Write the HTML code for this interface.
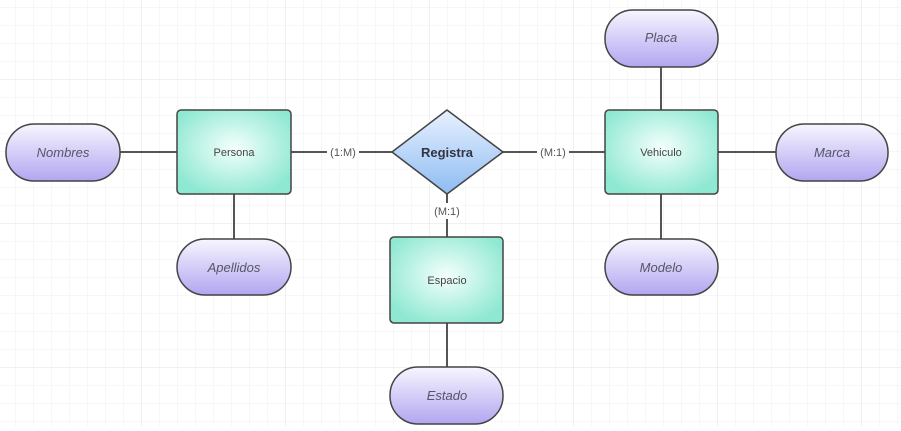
<!DOCTYPE html>
<html><head><meta charset="utf-8"><style>
body{margin:0;width:901px;height:426px;overflow:hidden;background:#fff;font-family:"Liberation Sans",sans-serif}
</style></head><body>
<svg width="901" height="426" xmlns="http://www.w3.org/2000/svg">
<defs>
<pattern id="g" x="16" y="8" width="18" height="18" patternUnits="userSpaceOnUse"><path d="M18 0V18M0 18H18" stroke="#efefef" stroke-width="1" fill="none"/></pattern>
<pattern id="G" x="142" y="80" width="144" height="144" patternUnits="userSpaceOnUse"><path d="M144 0V144M0 144H144" stroke="#e0e0e0" stroke-width="1" fill="none"/></pattern>
<radialGradient id="ent" cx="50%" cy="45%" r="60%"><stop offset="0" stop-color="#f4fffc"/><stop offset="1" stop-color="#8ee8d2"/></radialGradient>
<linearGradient id="att" x1="0" y1="0" x2="0" y2="1"><stop offset="0" stop-color="#f7f6ff"/><stop offset="1" stop-color="#b1a6f0"/></linearGradient>
<linearGradient id="rel" x1="0" y1="0" x2="0" y2="1"><stop offset="0" stop-color="#e8f1ff"/><stop offset="1" stop-color="#8ebcf2"/></linearGradient>
</defs>
<rect width="901" height="426" fill="url(#g)"/>
<rect width="901" height="426" fill="url(#G)"/>
<g stroke="#555" stroke-width="2" fill="none">
<path d="M120 152H177M291 152H392M503 152H605M718 152H776M661 67V110M661 194V239M234 194V239M447 194V237M447 323V367"/>
</g>
<g font-size="11" fill="#555" text-anchor="middle">
<rect x="327" y="144" width="32" height="16" fill="#fff"/><text x="343" y="156">(1:M)</text>
<rect x="537" y="144" width="32" height="16" fill="#fff"/><text x="553" y="156">(M:1)</text>
<rect x="431" y="203" width="32" height="16" fill="#fff"/><text x="447" y="215">(M:1)</text>
</g>
<g stroke="#444" stroke-width="1.5">
<rect x="177" y="110" width="114" height="84" rx="4" fill="url(#ent)"/>
<rect x="605" y="110" width="113" height="84" rx="4" fill="url(#ent)"/>
<rect x="390" y="237" width="113" height="86" rx="4" fill="url(#ent)"/>
<path d="M447 110L503 152L447 194L392 152Z" stroke-linejoin="round" fill="url(#rel)"/>
<rect x="6" y="124" width="114" height="57" rx="28" fill="url(#att)"/>
<rect x="776" y="124" width="112" height="57" rx="28" fill="url(#att)"/>
<rect x="605" y="10" width="113" height="57" rx="28" fill="url(#att)"/>
<rect x="605" y="239" width="113" height="56" rx="28" fill="url(#att)"/>
<rect x="177" y="239" width="114" height="56" rx="28" fill="url(#att)"/>
<rect x="390" y="367" width="113" height="57" rx="28" fill="url(#att)"/>
</g>
<g text-anchor="middle" fill="#444">
<text x="234" y="156" font-size="11">Persona</text>
<text x="661" y="156" font-size="11">Vehiculo</text>
<text x="447" y="284" font-size="11">Espacio</text>
<text x="447" y="157" font-size="13" font-weight="bold" fill="#334">Registra</text>
<g font-style="italic" font-size="13" fill="#556">
<text x="63" y="157">Nombres</text>
<text x="832" y="157">Marca</text>
<text x="661" y="42">Placa</text>
<text x="661" y="272">Modelo</text>
<text x="234" y="272">Apellidos</text>
<text x="447" y="400">Estado</text>
</g></g>
</svg>
</body></html>
